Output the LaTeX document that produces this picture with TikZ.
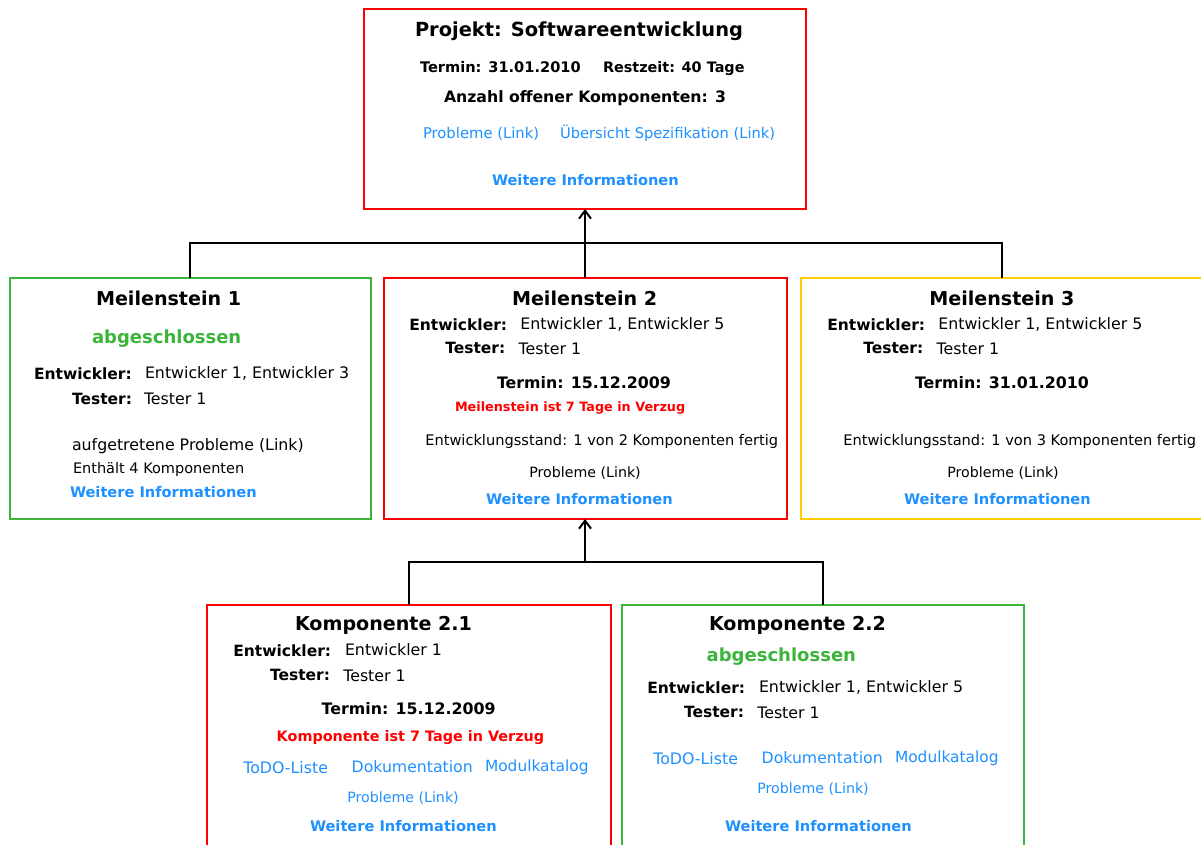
\documentclass[tikz,border=0pt]{standalone}
\usepackage{fontspec}
\setmainfont{DejaVu Sans}
\usetikzlibrary{arrows.meta}
\definecolor{boxred}{RGB}{255,0,0}
\definecolor{boxgreen}{RGB}{60,180,60}
\definecolor{boxyellow}{RGB}{255,204,0}
\definecolor{linkblue}{RGB}{30,144,255}
\newcommand{\myfs}[1]{\fontsize{#1pt}{#1pt}\selectfont}
\begin{document}
\begin{tikzpicture}[x=1pt,y=-1pt,
  box/.style={draw=#1, line width=2pt, rectangle, inner sep=0pt, outer sep=0pt},
  txt/.style={anchor=base west, inner sep=0pt, outer sep=0pt, text=black},
  head/.style={txt, font={\myfs{19.1}\bfseries}},
  lab/.style={txt, font={\myfs{15.5}\bfseries}},
  val/.style={txt, font={\myfs{15.8}}},
  date/.style={txt, font={\myfs{15.8}\bfseries}},
  plain/.style={txt, font={\myfs{#1}}},
  link/.style={txt, text=linkblue, font={\myfs{#1}}},
  more/.style={txt, text=linkblue, font={\myfs{14.6}\bfseries}},
  done/.style={txt, text=boxgreen, font={\myfs{18}\bfseries}},
  late/.style={txt, text=boxred, font={\myfs{#1}\bfseries}},
  conn/.style={draw=black, line width=2pt},
  arr/.style={conn, -{Straight Barb[length=8pt,width=12pt]}}
]
\useasboundingbox (0,0) rectangle (1201,845);

% boxes
\node[box=boxred, minimum width=442pt, minimum height=200pt] (proj) at (585,109) {};
\node[box=boxgreen, minimum width=361.5pt, minimum height=241pt] (m1) at (190.25,398.5) {};
\node[box=boxred, minimum width=403pt, minimum height=241pt] (m2) at (585,398.5) {};
\node[box=boxyellow, minimum width=402pt, minimum height=241pt] (m3) at (1002,398.5) {};
\node[box=boxred, minimum width=403.4pt, minimum height=265pt] (k21) at (409,737.5) {};
\node[box=boxgreen, minimum width=402.3pt, minimum height=265pt] (k22) at (823.15,737.5) {};

% connectors
\coordinate (bus1) at (585,243.3);
\coordinate (bus2) at (585,562.3);
\draw[conn] (m1.north) |- (bus1) -| (m3.north);
\draw[arr] (m2.north) -- (proj.south);
\draw[conn] (k21.north) |- (bus2) -| (k22.north);
\draw[arr] (bus2) -- (m2.south);

% project
\node[txt, font={\myfs{19.4}\bfseries}] (p1) at (415,37) {Projekt: Softwareentwicklung};
\node[txt, font={\myfs{14.6}\bfseries}] (p2) at (420,72.3) {Termin: 31.01.2010};
\node[txt, font={\myfs{14.4}\bfseries}] (p3) at (603,72.3) {Restzeit: 40 Tage};
\node[txt, font={\myfs{15.7}\bfseries}] (p4) at (444,102.3) {Anzahl offener Komponenten: 3};
\node[link=14.8] (p5) at (423,139) {Probleme (Link)};
\node[link=14.7] (p6) at (560,139) {Übersicht Spezifikation (Link)};
\node[more] (p7) at (492,185.3) {Weitere Informationen};

% Meilenstein 1
\node[head] (a1) at (96,305) {Meilenstein 1};
\node[done] (a2) at (92,343.3) {abgeschlossen};
\node[lab] (a3) at (34,379) {Entwickler:};
\node[val] (a4) at (145,378.3) {Entwickler 1, Entwickler 3};
\node[lab] (a5) at (72,404.3) {Tester:};
\node[val] (a6) at (144,404.3) {Tester 1};
\node[plain=15.8] (a7) at (72,450) {aufgetretene Probleme (Link)};
\node[plain=14.5] (a8) at (73,473.3) {Enthält 4 Komponenten};
\node[more] (a9) at (70,497.7) {Weitere Informationen};

% Meilenstein 2
\node[head] (b1) at (512,305) {Meilenstein 2};
\node[lab] (b2) at (409.3,330) {Entwickler:};
\node[val] (b3) at (520.3,329) {Entwickler 1, Entwickler 5};
\node[lab] (b4) at (445.3,353.3) {Tester:};
\node[val] (b5) at (518.7,354.3) {Tester 1};
\node[date] (b6) at (497,388.3) {Termin: 15.12.2009};
\node[late=12.8] (b7) at (455,411) {Meilenstein ist 7 Tage in Verzug};
\node[plain=14.6] (b8) at (425.3,445) {Entwicklungsstand: 1 von 2 Komponenten fertig};
\node[plain=14.2] (b9) at (529.3,477.3) {Probleme (Link)};
\node[more] (b10) at (486,504.3) {Weitere Informationen};

% Meilenstein 3
\node[head] (c1) at (929.3,305) {Meilenstein 3};
\node[lab] (c2) at (827.3,330) {Entwickler:};
\node[val] (c3) at (938.3,329) {Entwickler 1, Entwickler 5};
\node[lab] (c4) at (863.3,353.3) {Tester:};
\node[val] (c5) at (936.7,354.3) {Tester 1};
\node[date] (c6) at (915,388.3) {Termin: 31.01.2010};
\node[plain=14.6] (c7) at (843.3,445) {Entwicklungsstand: 1 von 3 Komponenten fertig};
\node[plain=14.2] (c8) at (947.3,477.3) {Probleme (Link)};
\node[more] (c9) at (904,504.3) {Weitere Informationen};

% Komponente 2.1
\node[head] (d1) at (295,630.7) {Komponente 2.1};
\node[lab] (d2) at (233.3,656.7) {Entwickler:};
\node[val] (d3) at (345,655.7) {Entwickler 1};
\node[lab] (d4) at (270,680.7) {Tester:};
\node[val] (d5) at (343.3,681.7) {Tester 1};
\node[date] (d6) at (321.7,714) {Termin: 15.12.2009};
\node[late=14.4] (d7) at (276.7,741.7) {Komponente ist 7 Tage in Verzug};
\node[link=15.8] (d8) at (243.3,773.3) {ToDO-Liste};
\node[link=15.7] (d9) at (351.7,772.3) {Dokumentation};
\node[link=15.4] (d10) at (485,771.7) {Modulkatalog};
\node[link=14.2] (d11) at (347.3,802.3) {Probleme (Link)};
\node[more] (d12) at (310,831.7) {Weitere Informationen};

% Komponente 2.2
\node[head] (e1) at (709,630.7) {Komponente 2.2};
\node[done] (e2) at (706.7,661.7) {abgeschlossen};
\node[lab] (e3) at (647.3,693.3) {Entwickler:};
\node[val] (e4) at (759,692.3) {Entwickler 1, Entwickler 5};
\node[lab] (e5) at (684,717.3) {Tester:};
\node[val] (e6) at (757.3,718.3) {Tester 1};
\node[link=15.8] (e7) at (653.3,764) {ToDO-Liste};
\node[link=15.7] (e8) at (761.7,763) {Dokumentation};
\node[link=15.4] (e9) at (895,762.3) {Modulkatalog};
\node[link=14.2] (e10) at (757.3,793.3) {Probleme (Link)};
\node[more] (e11) at (725,831.7) {Weitere Informationen};
\end{tikzpicture}
\end{document}
